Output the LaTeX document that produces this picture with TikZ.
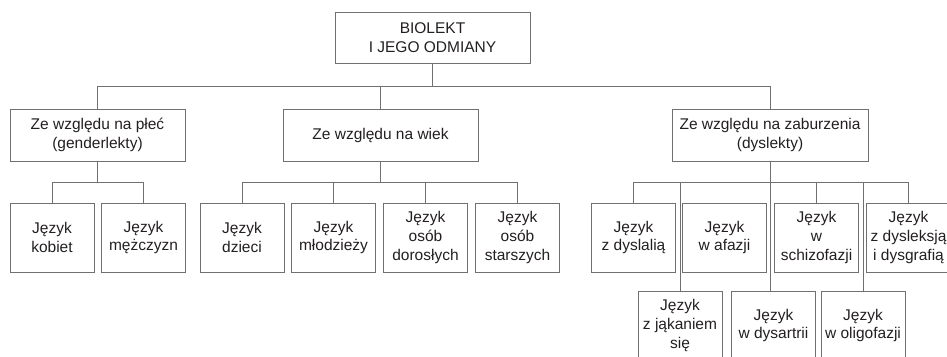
\documentclass[tikz,border=0pt]{standalone}
\usepackage{fontspec}
\setmainfont{Liberation Sans}
\usepackage{tikz}
\usetikzlibrary{positioning}

\definecolor{linegray}{RGB}{112,112,112}
\definecolor{textblack}{RGB}{35,31,32}

\begin{document}
\begin{tikzpicture}[x=1pt, y=-1pt,
    box/.style={draw=linegray, line width=1pt, inner sep=0pt, align=center,
      text=textblack, font=\fontsize{15.5}{18.8}\selectfont},
    topbox/.style={box, minimum width=195pt, minimum height=51pt},
    midbox/.style={box, minimum height=52pt},
    leafbox/.style={box, minimum width=84pt, minimum height=69pt},
    link/.style={draw=linegray, line width=1pt}]
        \clip (0, 0) rectangle (947, 356);
        \useasboundingbox (0, 0) rectangle (947, 356);

        \node[topbox] (root) at (432.5, 37.5) {BIOLEKT\\I JEGO ODMIANY};

        \node[midbox, minimum width=175pt] (plec) at (97.5, 135) {Ze względu na płeć\\(genderlekty)};
        \node[midbox, minimum width=195pt] (wiek) at (380.5, 135) {Ze względu na wiek};
        \node[midbox, minimum width=196pt] (zab) at (770, 135) {Ze względu na zaburzenia\\(dyslekty)};

        \node[leafbox] (kob) at (52, 237.5) {Język\\kobiet};
        \node[leafbox] (mez) at (143.5, 237.5) {Język\\mężczyzn};

        \node[leafbox] (dzi) at (242, 237.5) {Język\\dzieci};
        \node[leafbox] (mlo) at (333.5, 237.5) {Język\\młodzieży};
        \node[leafbox] (dor) at (425.5, 237.5) {Język\\osób\\dorosłych};
        \node[leafbox] (sta) at (517.5, 237.5) {Język\\osób\\starszych};

        \node[leafbox] (dysl) at (633.5, 237.5) {Język\\z dyslalią};
        \node[leafbox] (afa) at (724.5, 237.5) {Język\\w afazji};
        \node[leafbox] (schi) at (816.5, 237.5) {Język\\w\\schizofazji};
        \node[leafbox] (dysg) at (908.5, 237.5) {Język\\z dysleksją\\i dysgrafią};

        \node[leafbox] (jak) at (680, 325.5) {Język\\z jąkaniem\\się};
        \node[leafbox] (dart) at (773.5, 325.5) {Język\\w dysartrii};
        \node[leafbox] (oli) at (863, 325.5) {Język\\w oligofazji};

        \coordinate (bus1) at (0, 86);
        \coordinate (bus2) at (0, 182);

        \draw[link] (root.south) -- (root.south |- bus1);
        \draw[link] (plec.north) |- (bus1 -| zab.north) -- (zab.north);
        \draw[link] (wiek.north) -- (wiek.north |- bus1);

        \draw[link] (plec.south) -- (plec.south |- bus2);
        \draw[link] (kob.north) |- (bus2 -| mez.north) -- (mez.north);

        \draw[link] (wiek.south) -- (wiek.south |- bus2);
        \draw[link] (dzi.north) |- (bus2 -| sta.north) -- (sta.north);
        \draw[link] (mlo.north) -- (mlo.north |- bus2);
        \draw[link] (dor.north) -- (dor.north |- bus2);

        \draw[link] (zab.south) -- (zab.south |- dart.north);
        \draw[link] (dysl.north) |- (bus2 -| dysg.north) -- (dysg.north);
        \draw[link] (schi.north) -- (schi.north |- bus2);
        \draw[link] (jak.north) -- (jak.north |- bus2);
        \draw[link] (oli.north) -- (oli.north |- bus2);
      \end{tikzpicture}
\end{document}
